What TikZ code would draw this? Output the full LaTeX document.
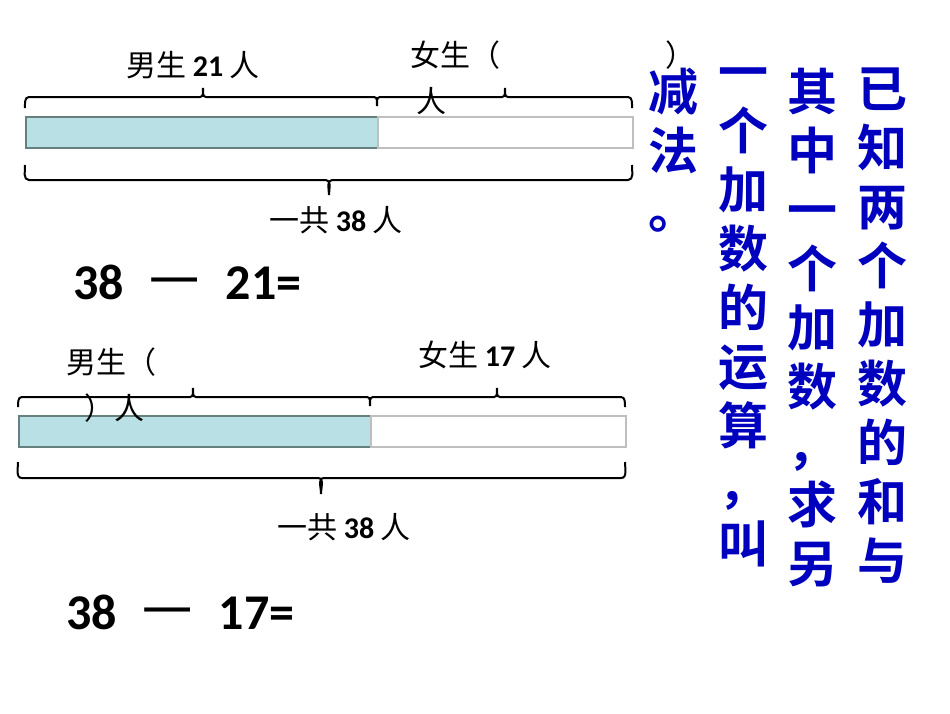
\documentclass[tikz,border=0pt]{standalone}
\usepackage{fontspec}
\setmainfont{Carlito}
\newfontfamily\cjk{Noto Sans CJK SC}
\newfontfamily\cjkb{Noto Sans CJK SC Bold}
\newcommand{\cj}[1]{{\cjk\mdseries #1}}
\begin{document}
\begin{tikzpicture}[x=1pt,y=-1pt,
  lbl/.style={font=\fontsize{30}{32}\selectfont\bfseries, inner sep=0pt},
  eq/.style={font=\fontsize{50}{52}\selectfont\bfseries, inner sep=0pt, anchor=west},
  vcol/.style={font=\fontsize{50}{59}\cjkb, text=blue!75!black, align=center, inner sep=0pt, anchor=north, text width=55pt},
  brc/.style={line width=2pt},
  barL/.style={draw=gray!80!teal, line width=2pt, fill={rgb,255:red,185;green,224;blue,228}},
  barR/.style={draw=gray!50, line width=2pt, fill=white}]
\useasboundingbox (0,0) rectangle (950,713);
% top diagram
\node[barL, minimum width=352pt, minimum height=31pt, anchor=north west, inner sep=0pt] (b1l) at (25,116) {};
\node[barR, minimum width=255pt, minimum height=31pt, anchor=north west, inner sep=0pt] (b1r) at (377,116) {};
\draw[brc] (25,108) to[out=90,in=180] (29,97) -- (200,97) to[out=0,in=-90] (203,88) to[out=-90,in=180] (206,97) -- (374,97) to[out=0,in=90] (377,106) to[out=90,in=180] (380,97) -- (502,97) to[out=0,in=-90] (505,88) to[out=-90,in=180] (508,97) -- (628,97) to[out=0,in=90] (632,108);
\draw[brc] (25,165) to[out=-90,in=180] (29,180) -- (326,180) to[out=0,in=90] (329,195) to[out=90,in=180] (332,180) -- (628,180) to[out=0,in=-90] (632,165);
\node[lbl] (t1) at (193,65) {\cj{男生} 21 \cj{人}};
\node[lbl, anchor=west] (t2) at (410,55) {\cj{女生（}\hspace{165pt}\cj{）}};
\node[lbl] (t3) at (431,101) {\cj{人}};
\node[lbl] (t4) at (336,220) {\cj{一共} 38 \cj{人}};
\node[eq] (e1) at (73,282) {38\hspace{26pt}\cj{一}\hspace{26pt}21=};
% bottom diagram
\node[barL, minimum width=352pt, minimum height=31pt, anchor=north west, inner sep=0pt] (b2l) at (18,415) {};
\node[barR, minimum width=255pt, minimum height=31pt, anchor=north west, inner sep=0pt] (b2r) at (370,415) {};
\draw[brc] (18,407) to[out=90,in=180] (22,397) -- (190,397) to[out=0,in=-90] (193,388) to[out=-90,in=180] (196,397) -- (367,397) to[out=0,in=90] (370,406) to[out=90,in=180] (373,397) -- (494,397) to[out=0,in=-90] (497,388) to[out=-90,in=180] (500,397) -- (621,397) to[out=0,in=90] (625,407);
\draw[brc] (18,462) to[out=-90,in=180] (22,478) -- (318,478) to[out=0,in=90] (321,494) to[out=90,in=180] (324,478) -- (621,478) to[out=0,in=-90] (625,462);
\node[lbl, anchor=west] (u1) at (66,362) {\cj{男生（}};
\node[lbl, anchor=west] (u2) at (84,408) {\cj{）人}};
\node[lbl] (u3) at (485,355) {\cj{女生} 17 \cj{人}};
\node[lbl] (u4) at (344,527) {\cj{一共} 38 \cj{人}};
\node[eq] (e2) at (66,612) {38\hspace{26pt}\cj{一}\hspace{26pt}17=};
% right vertical text
\node[vcol] (c1) at (882,68) {已\\知\\两\\个\\加\\数\\的\\和\\与};
\node[vcol] (c2) at (812,68) {其\\中\\一\\个\\加\\数\\，\\求\\另};
\node[vcol] (c3) at (743,68) {一\\个\\加\\数\\的\\运\\算\\，\\叫};
\node[vcol] (c4) at (673,68) {减\\法\\。};
\end{tikzpicture}
\end{document}
